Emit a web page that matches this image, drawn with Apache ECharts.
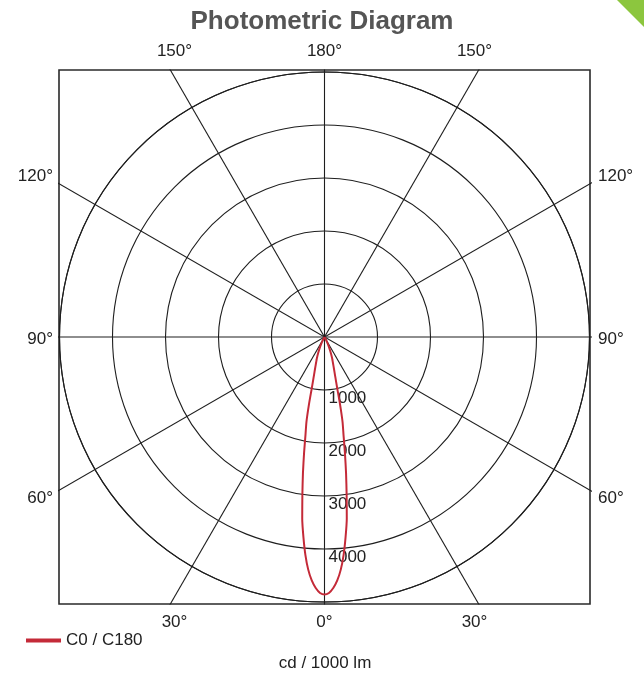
<!DOCTYPE html>
<html>
<head>
<meta charset="utf-8">
<title>Photometric Diagram</title>
<script src="https://cdn.jsdelivr.net/npm/echarts@6/dist/echarts.min.js"></script>
<style>
  html, body { margin: 0; padding: 0; background: #ffffff; }
  #main { width: 644px; height: 675px; }
</style>
</head>
<body>
<div id="main"></div>
<script>
// Luminous intensity of the C0 / C180 plane (cd per 1000 lm) against gamma angle (deg from nadir)
const gammaDeg = [0, 1, 2, 3, 4, 5, 6, 7, 8, 9, 10, 11, 12, 13, 14, 15, 16, 17, 18, 19, 20, 22, 24, 26, 28, 30, 35];
const intensityC0C180 = [4860, 4830, 4740, 4600, 4400, 4130, 3800, 3450, 3000, 2600, 2220, 1880, 1640, 1300, 980, 800, 680, 590, 520, 460, 415, 300, 200, 120, 60, 20, 0];

// Rings and spokes of the diagram
const ringMax = 5000;
const ringStep = 1000;
const spokeAngles = [0, 30, 60, 90, 120, 150];

// Angle tick labels around the frame
const topLabels = ['150°', '180°', '150°'];
const bottomLabels = ['30°', '0°', '30°'];
const sideLabels = ['120°', '90°', '60°'];

const seriesName = 'C0 / C180';
const unitLabel = 'cd / 1000 lm';
const titleText = 'Photometric Diagram';

const FONT = "'Liberation Sans', Arial, Helvetica, sans-serif";
const LINE = '#1e1e1e';
const CX = 324.5, CY = 337, R = 265;
const GRID = { left: 59, top: 70, width: 531, height: 534 };
const pxPerUnit = R / ringMax;

// Polar points: both halves of the symmetric C0 / C180 curve
const beamData = [];
for (let i = gammaDeg.length - 1; i >= 0; i--) beamData.push([intensityC0C180[i], gammaDeg[i]]);
for (let i = 1; i < gammaDeg.length; i++) beamData.push([intensityC0C180[i], 360 - gammaDeg[i]]);

// Spokes through the centre, clipped to the frame by the cartesian grid
const spokeLen = 9000;
const spokeSeries = spokeAngles.map(function (a) {
  const t = a * Math.PI / 180;
  return {
    type: 'line',
    coordinateSystem: 'cartesian2d',
    xAxisIndex: 0, yAxisIndex: 0,
    silent: true,
    symbol: 'none',
    clip: true,
    z: 1,
    lineStyle: { color: LINE, width: 1.1 },
    data: [[-spokeLen * Math.sin(t), spokeLen * Math.cos(t)], [spokeLen * Math.sin(t), -spokeLen * Math.cos(t)]]
  };
});

const labelStyle = { fontFamily: FONT, fontSize: 17, fill: '#222' };
const xs = [CX - 150, CX, CX + 150];
const sideYs = [176, 339, 498];
const graphics = [];
topLabels.forEach(function (t, i) {
  graphics.push({ type: 'text', x: xs[i], y: 51, style: Object.assign({ text: t, align: 'center', verticalAlign: 'middle' }, labelStyle) });
});
bottomLabels.forEach(function (t, i) {
  graphics.push({ type: 'text', x: xs[i], y: 622, style: Object.assign({ text: t, align: 'center', verticalAlign: 'middle' }, labelStyle) });
});
sideLabels.forEach(function (t, i) {
  graphics.push({ type: 'text', x: 53, y: sideYs[i], style: Object.assign({ text: t, align: 'right', verticalAlign: 'middle' }, labelStyle) });
  graphics.push({ type: 'text', x: 598, y: sideYs[i], style: Object.assign({ text: t, align: 'left', verticalAlign: 'middle' }, labelStyle) });
});
graphics.push({ type: 'text', x: 325, y: 663, style: Object.assign({ text: unitLabel, align: 'center', verticalAlign: 'middle' }, labelStyle) });
graphics.push({ type: 'polygon', shape: { points: [[617, 0], [644, 0], [644, 27]] }, style: { fill: '#8cc63e' } });

const chart = echarts.init(document.getElementById('main'), null, { renderer: 'canvas' });
chart.setOption({
  animation: false,
  backgroundColor: '#ffffff',
  title: {
    text: titleText,
    left: 'center',
    top: 4,
    textStyle: { fontFamily: FONT, fontSize: 26, fontWeight: 'bold', color: '#555' }
  },
  legend: {
    data: [seriesName],
    left: 26,
    top: 632,
    padding: 0,
    icon: 'rect',
    itemWidth: 35,
    itemHeight: 4,
    itemGap: 10,
    textStyle: { fontFamily: FONT, fontSize: 17, color: '#222' }
  },
  grid: Object.assign({ show: true, borderColor: '#2a2a2a', borderWidth: 1.6, backgroundColor: 'transparent' }, GRID),
  xAxis: { type: 'value', min: -(GRID.width / 2) / pxPerUnit, max: (GRID.width / 2) / pxPerUnit, show: false },
  yAxis: { type: 'value', min: -(GRID.height / 2) / pxPerUnit, max: (GRID.height / 2) / pxPerUnit, show: false },
  polar: { center: [CX, CY], radius: R },
  angleAxis: {
    type: 'value', min: 0, max: 360, interval: 30,
    startAngle: 270, clockwise: true,
    axisLine: { show: true, lineStyle: { color: LINE, width: 1.1 } },
    axisTick: { show: false },
    axisLabel: { show: false },
    splitLine: { show: false }
  },
  radiusAxis: {
    type: 'value', min: 0, max: ringMax, interval: ringStep,
    axisLine: { show: false },
    axisTick: { show: false },
    splitLine: { show: true, lineStyle: { color: LINE, width: 1.1 } },
    axisLabel: {
      formatter: function (v) { return (v > 0 && v < ringMax) ? String(v) : ''; },
      fontFamily: FONT, fontSize: 17, color: '#222',
      align: 'left', verticalAlign: 'top', margin: 4
    }
  },
  graphic: graphics,
  series: spokeSeries.concat([{
    name: seriesName,
    type: 'line',
    coordinateSystem: 'polar',
    symbol: 'none',
    smooth: 0.2,
    z: 5,
    itemStyle: { color: '#c42a38' },
    lineStyle: { color: '#c42a38', width: 2 },
    data: beamData
  }])
});
</script>
</body>
</html>
